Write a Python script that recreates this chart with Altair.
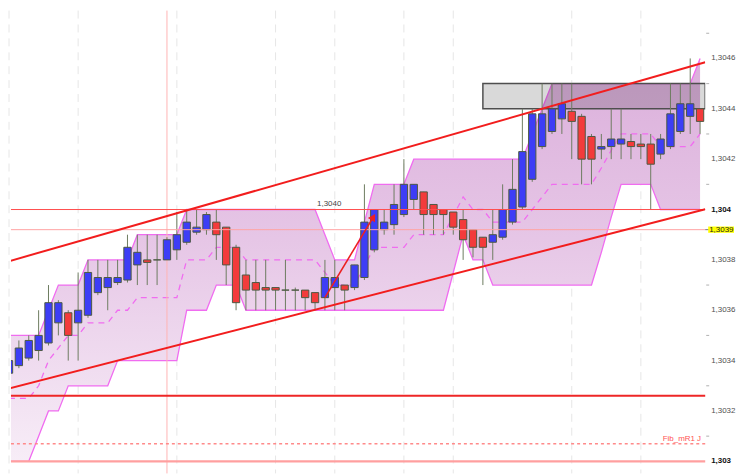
import altair as alt
import pandas as pd

# ---------------- data ----------------
idx = list(range(71))
opens = [1.30335, 1.30338, 1.30341, 1.30344, 1.30347, 1.30355, 1.30359, 1.30355, 1.30358, 1.30367,
         1.30369, 1.30371, 1.30372, 1.30378, 1.30380, 1.30380, 1.30380, 1.30384, 1.30387, 1.30391,
         1.30392, 1.30395, 1.30393, 1.30385, 1.30374, 1.30371, 1.30369, 1.30369, 1.30368, 1.30368,
         1.30368, 1.30367, 1.30365, 1.30369, 1.30370, 1.30369, 1.30373, 1.30384, 1.30392, 1.30394,
         1.30398, 1.30404, 1.30407, 1.30402, 1.30400, 1.30399, 1.30396, 1.30392, 1.30389, 1.30387,
         1.30389, 1.30395, 1.30401, 1.30412, 1.30425, 1.30431, 1.30436, 1.30439, 1.30437, 1.30429,
         1.30424, 1.30425, 1.30426, 1.30427, 1.30426, 1.30426, 1.30422, 1.30425, 1.30431, 1.30437,
         1.30440]
highs = [1.30341, 1.30348, 1.30350, 1.30360, 1.30370, 1.30364, 1.30360, 1.30375, 1.30380, 1.30380,
         1.30380, 1.30380, 1.30390, 1.30390, 1.30390, 1.30390, 1.30389, 1.30399, 1.30400, 1.30400,
         1.30399, 1.30400, 1.30393, 1.30386, 1.30380, 1.30380, 1.30380, 1.30369, 1.30380, 1.30369,
         1.30368, 1.30367, 1.30380, 1.30380, 1.30370, 1.30378, 1.30410, 1.30400, 1.30400, 1.30410,
         1.30420, 1.30410, 1.30407, 1.30402, 1.30400, 1.30399, 1.30400, 1.30392, 1.30389, 1.30400,
         1.30410, 1.30420, 1.30440, 1.30440, 1.30450, 1.30450, 1.30450, 1.30450, 1.30438, 1.30430,
         1.30430, 1.30440, 1.30440, 1.30430, 1.30430, 1.30430, 1.30430, 1.30450, 1.30450, 1.30460,
         1.30440]
lows = [1.30330, 1.30337, 1.30340, 1.30340, 1.30346, 1.30350, 1.30340, 1.30340, 1.30357, 1.30366,
        1.30360, 1.30370, 1.30371, 1.30370, 1.30370, 1.30370, 1.30380, 1.30380, 1.30386, 1.30390,
        1.30390, 1.30380, 1.30370, 1.30360, 1.30360, 1.30360, 1.30360, 1.30360, 1.30360, 1.30360,
        1.30360, 1.30360, 1.30360, 1.30360, 1.30360, 1.30368, 1.30372, 1.30383, 1.30390, 1.30390,
        1.30397, 1.30400, 1.30390, 1.30390, 1.30390, 1.30390, 1.30380, 1.30381, 1.30370, 1.30380,
        1.30388, 1.30394, 1.30400, 1.30411, 1.30424, 1.30430, 1.30430, 1.30420, 1.30410, 1.30410,
        1.30420, 1.30420, 1.30420, 1.30420, 1.30420, 1.30400, 1.30420, 1.30424, 1.30430, 1.30430,
        1.30430]
closes = [1.30340, 1.30345, 1.30348, 1.30350, 1.30363, 1.30363, 1.30350, 1.30360, 1.30375, 1.30373,
          1.30373, 1.30373, 1.30385, 1.30383, 1.30379, 1.30380, 1.30388, 1.30390, 1.30395, 1.30393,
          1.30398, 1.30390, 1.30378, 1.30363, 1.30368, 1.30368, 1.30368, 1.30368, 1.30368, 1.30368,
          1.30365, 1.30363, 1.30373, 1.30373, 1.30368, 1.30378, 1.30395, 1.30400, 1.30395, 1.30402,
          1.30410, 1.30410, 1.30398, 1.30398, 1.30398, 1.30393, 1.30388, 1.30385, 1.30385, 1.30390,
          1.30400, 1.30408, 1.30423, 1.30438, 1.30438, 1.30440, 1.30442, 1.30435, 1.30420, 1.30420,
          1.30425, 1.30428, 1.30428, 1.30425, 1.30425, 1.30418, 1.30428, 1.30438, 1.30442, 1.30442,
          1.30435]
# price channel (upper / lower envelope)
upper = [1.30350, 1.30350, 1.30350, 1.30350, 1.30360, 1.30370, 1.30370, 1.30370, 1.30380, 1.30380,
         1.30380, 1.30380, 1.30380, 1.30390, 1.30390, 1.30390, 1.30390, 1.30390, 1.30400, 1.30400,
         1.30400, 1.30400, 1.30400, 1.30400, 1.30400, 1.30400, 1.30400, 1.30400, 1.30400, 1.30400,
         1.30400, 1.30400, 1.30390, 1.30380, 1.30380, 1.30380, 1.30395, 1.30410, 1.30410, 1.30410,
         1.30410, 1.30420, 1.30420, 1.30420, 1.30420, 1.30420, 1.30420, 1.30420, 1.30420, 1.30420,
         1.30420, 1.30420, 1.30420, 1.30430, 1.30440, 1.30450, 1.30450, 1.30450, 1.30450, 1.30450,
         1.30450, 1.30450, 1.30450, 1.30450, 1.30450, 1.30450, 1.30450, 1.30450, 1.30450, 1.30450,
         1.30460]
lower = [1.30300, 1.30300, 1.30300, 1.30310, 1.30320, 1.30320, 1.30330, 1.30330, 1.30330, 1.30330,
         1.30330, 1.30340, 1.30340, 1.30340, 1.30340, 1.30340, 1.30340, 1.30340, 1.30360, 1.30360,
         1.30360, 1.30370, 1.30370, 1.30370, 1.30360, 1.30360, 1.30360, 1.30360, 1.30360, 1.30360,
         1.30360, 1.30360, 1.30360, 1.30360, 1.30360, 1.30360, 1.30360, 1.30360, 1.30360, 1.30360,
         1.30360, 1.30360, 1.30360, 1.30360, 1.30360, 1.30375, 1.30390, 1.30380, 1.30380, 1.30370,
         1.30370, 1.30370, 1.30370, 1.30370, 1.30370, 1.30370, 1.30370, 1.30370, 1.30370, 1.30370,
         1.30383, 1.30397, 1.30410, 1.30410, 1.30410, 1.30410, 1.30400, 1.30400, 1.30400, 1.30400,
         1.30400]

grid_x = [0, 7, 17, 27, 33, 40, 45, 57, 64]
cross_x = [16]
y_ticks = [1.3030, 1.3032, 1.3034, 1.3036, 1.3038, 1.3040, 1.3042, 1.3044, 1.3046]
plain_ticks = [1.3032, 1.3034, 1.3036, 1.3038, 1.3042, 1.3044, 1.3046]
plain_labels = ["1,3032", "1,3034", "1,3036", "1,3038", "1,3042", "1,3044", "1,3046"]
bold_ticks = [1.3030, 1.3040]
bold_labels = ["1,303", "1,304"]
minor_ticks = [1.3031, 1.3033, 1.3035, 1.3037, 1.3041, 1.3043, 1.3045, 1.3047]

level_1304 = [1.30400]
current_price = [1.30392]
support_level = [1.30326]
fib_level = [1.30307]
level_1303 = [1.30300]

chan_up_i = [-0.6, 70.52]
chan_up_p = [1.303788, 1.304585]
chan_lo_i = [-0.6, 70.52]
chan_lo_p = [1.303283, 1.304001]

arrow_i = [32, 36.9]
arrow_p = [1.30365, 1.30397]

box_i = [48, 70.52]
box_p = [1.30440, 1.30450]

# ---------------- scales ----------------
W, H = 699, 466
xs = alt.Scale(domain=[0.2, 70.52], nice=False, zero=False)
ys = alt.Scale(domain=[1.302952, 1.30479], nice=False, zero=False)
X = lambda f: alt.X(f, scale=xs, axis=None)
Y = lambda f: alt.Y(f, scale=ys, axis=None)

candles = pd.DataFrame(dict(i=idx, o=opens, h=highs, l=lows, c=closes))
chan = pd.DataFrame(dict(i=idx, u=upper, lo=lower))

y_axis = alt.Axis(
    orient="right", values=y_ticks, title=None, labels=False,
    grid=True, gridColor="#e6e6e6", gridDash=[8, 6], gridWidth=1,
    domainColor="#d8d8d8", domainWidth=2,
    tickColor="#9a9a9a", tickSize=4, tickWidth=1,
)

# axis / grid carrier
axis_layer = alt.Chart(pd.DataFrame({"p": y_ticks})).mark_rule(opacity=0).encode(
    y=alt.Y("p:Q", scale=ys, axis=y_axis))

vgrid = alt.Chart(pd.DataFrame({"i": grid_x})).mark_rule(
    color="#e6e6e6", strokeDash=[8, 6], strokeWidth=1).encode(x=X("i:Q"))

gradient = alt.Gradient(
    gradient="linear", x1=0, x2=0, y1=0, y2=1,
    stops=[alt.GradientStop(color="#dbafdb", offset=0),
           alt.GradientStop(color="#e6c6e6", offset=0.45),
           alt.GradientStop(color="#f7edf7", offset=1)])

area = alt.Chart(chan).mark_area(interpolate="linear", fill=gradient, clip=True).encode(
    x=X("i:Q"), y=Y("u:Q"), y2="lo:Q")
up_line = alt.Chart(chan).mark_line(color="#f06cf0", strokeWidth=1.3, clip=True).encode(
    x=X("i:Q"), y=Y("u:Q"))
lo_line = alt.Chart(chan).mark_line(color="#f06cf0", strokeWidth=1.3, clip=True).encode(
    x=X("i:Q"), y=Y("lo:Q"))
mid_line = alt.Chart(chan).transform_calculate(m="(datum.u + datum.lo) / 2").mark_line(
    color="#f06cf0", strokeWidth=1.3, strokeDash=[6, 5], clip=True).encode(
    x=X("i:Q"), y=Y("m:Q"))

box = alt.Chart(pd.DataFrame({"i0": [box_i[0]], "i1": [box_i[1]],
                              "p0": [box_p[0]], "p1": [box_p[1]]})).mark_rect(
    fill="#000000", fillOpacity=0.15, stroke="#4e4e4e", strokeWidth=1.5, clip=True).encode(
    x=X("i0:Q"), x2="i1:Q", y=Y("p0:Q"), y2="p1:Q")

cross = alt.Chart(pd.DataFrame({"i": cross_x})).mark_rule(
    color="#ffb3b3", strokeWidth=1).encode(x=X("i:Q"))

wicks = alt.Chart(candles).mark_rule(color="#6d7c60", strokeWidth=1, clip=True).encode(
    x=X("i:Q"), y=Y("l:Q"), y2="h:Q")
bodies = alt.Chart(candles).transform_calculate(
    x0="datum.i - 0.37", x1="datum.i + 0.37").mark_rect(
    stroke="#4d5a43", strokeWidth=1, clip=True).encode(
    x=X("x0:Q"), x2="x1:Q", y=Y("o:Q"), y2="c:Q",
    fill=alt.condition("datum.c >= datum.o", alt.value("#3d3df6"), alt.value("#f33b3b")))


def hline(vals, color, width, dash=None):
    kw = dict(color=color, strokeWidth=width)
    if dash:
        kw["strokeDash"] = dash
    return alt.Chart(pd.DataFrame({"p": vals})).mark_rule(**kw).encode(y=Y("p:Q"))


h1304 = hline(level_1304, "#ff4d4d", 1)
hcur = hline(current_price, "#ffa3a3", 1)
hsup = hline(support_level, "#ee2626", 2)
hfib = hline(fib_level, "#ff8a8a", 1.5, [3, 3])
h1303 = hline(level_1303, "#ff9f9f", 2.2)

ch_up = alt.Chart(pd.DataFrame({"i": chan_up_i, "p": chan_up_p})).mark_line(
    color="#f21d1d", strokeWidth=2, clip=True).encode(x=X("i:Q"), y=Y("p:Q"))
ch_lo = alt.Chart(pd.DataFrame({"i": chan_lo_i, "p": chan_lo_p})).mark_line(
    color="#f21d1d", strokeWidth=2, clip=True).encode(x=X("i:Q"), y=Y("p:Q"))

arrow = alt.Chart(pd.DataFrame({"i": arrow_i, "p": arrow_p})).mark_line(
    color="#ec2020", strokeWidth=1.6).encode(x=X("i:Q"), y=Y("p:Q"))
arrow_head = alt.Chart(pd.DataFrame({"i": [arrow_i[1]], "p": [arrow_p[1]]})).mark_point(
    shape="triangle-up", filled=True, color="#ec2020", size=70, angle=31, opacity=1).encode(
    x=X("i:Q"), y=Y("p:Q"))

txt_1304 = alt.Chart(pd.DataFrame({"i": [31.2], "p": level_1304, "t": ["1,3040"]})).mark_text(
    align="left", baseline="bottom", dy=-2, fontSize=8, font="Liberation Sans",
    color="#444444").encode(x=X("i:Q"), y=Y("p:Q"), text="t:N")
txt_fib = alt.Chart(pd.DataFrame({"i": [70.1], "p": fib_level, "t": ["Fib_mR1 J"]})).mark_text(
    align="right", baseline="bottom", dy=-1, fontSize=8, font="Liberation Sans",
    color="#ff5252").encode(x=X("i:Q"), y=Y("p:Q"), text="t:N")

plain_txt = alt.Chart(pd.DataFrame({"p": plain_ticks, "t": plain_labels})).mark_text(
    align="left", baseline="middle", fontSize=8, font="Liberation Sans",
    color="#505050", clip=False).encode(x=alt.value(W + 6), y=Y("p:Q"), text="t:N")
bold_txt = alt.Chart(pd.DataFrame({"p": bold_ticks, "t": bold_labels})).mark_text(
    align="left", baseline="middle", fontSize=8, font="Liberation Sans", fontWeight="bold",
    color="#111111", clip=False).encode(x=alt.value(W + 6), y=Y("p:Q"), text="t:N")

minor = alt.Chart(pd.DataFrame({"p": minor_ticks})).mark_rule(
    color="#b0b0b0", strokeWidth=1, clip=False).encode(
    x=alt.value(W + 1), x2=alt.value(W + 4), y=Y("p:Q"))

cur_df = pd.DataFrame({"p": current_price, "t": ["1,3039"]})
cur_tick = alt.Chart(cur_df).mark_rule(color="#777777", strokeWidth=1, clip=False).encode(
    x=alt.value(W), x2=alt.value(W + 4), y=Y("p:Q"))
cur_box = alt.Chart(cur_df).transform_calculate(
    a="datum.p + 0.0000125", b="datum.p - 0.0000125").mark_rect(
    color="#ffff00", clip=False).encode(
    x=alt.value(W + 3), x2=alt.value(W + 29), y=Y("a:Q"), y2="b:Q")
cur_txt = alt.Chart(cur_df).mark_text(
    align="left", baseline="middle", fontSize=8, font="Liberation Sans",
    color="#222222", clip=False).encode(x=alt.value(W + 4), y=Y("p:Q"), text="t:N")

chart = alt.layer(
    axis_layer, vgrid, area, up_line, lo_line, mid_line, box, cross,
    wicks, bodies, h1304, hcur, hsup, hfib, h1303, ch_up, ch_lo,
    arrow, arrow_head, txt_1304, txt_fib, plain_txt, bold_txt, minor,
    cur_tick, cur_box, cur_txt
).properties(width=W, height=H, padding=0, background="white").configure_view(strokeWidth=0)

chart.save("out.html", embed_options={"renderer": "svg", "actions": False})
